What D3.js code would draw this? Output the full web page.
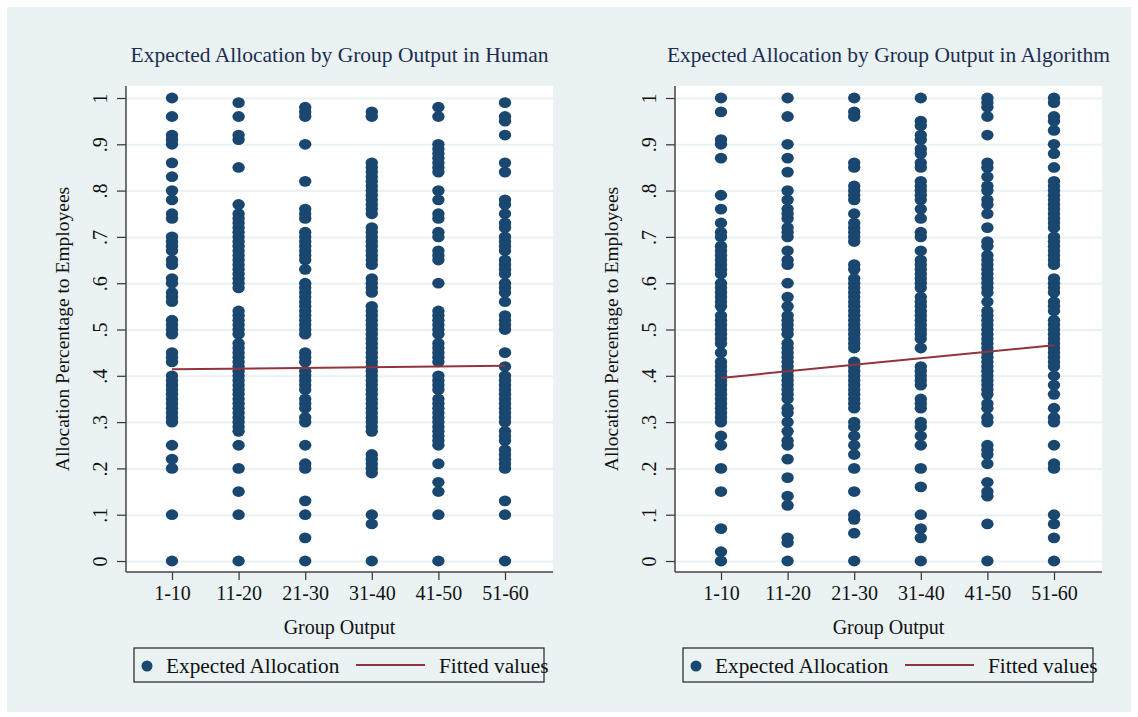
<!DOCTYPE html>
<html>
<head>
<meta charset="utf-8">
<script src="https://cdn.jsdelivr.net/npm/d3@7"></script>
<style>
  html, body { margin: 0; padding: 0; background: #fff; }
  svg text { font-family: "Liberation Serif", "Times New Roman", serif; }
</style>
</head>
<body>
<div id="chart"></div>
<script>
// ── data ─────────────────────────────────────────────────────────────
const groups = ["1-10", "11-20", "21-30", "31-40", "41-50", "51-60"];
const yTicks = [0, .1, .2, .3, .4, .5, .6, .7, .8, .9, 1];
const yTickLabels = ["0", ".1", ".2", ".3", ".4", ".5", ".6", ".7", ".8", ".9", "1"];

// Human condition, one array per group output bin
const human = [
  [1, .96, .92, .91, .90, .86, .83, .80, .78, .75, .74, .70, .69, .68, .67, .65, .64, .61, .60, .58, .57, .56, .52, .51, .50, .49, .45, .44, .43, .40, .39, .38, .37, .36, .35, .34, .33, .32, .31, .30, .25, .22, .20, .10, 0],
  [.99, .96, .92, .91, .85, .77, .75, .74, .73, .72, .71, .70, .69, .68, .67, .66, .65, .64, .63, .62, .61, .60, .59, .54, .53, .52, .51, .50, .49, .47, .46, .45, .44, .43, .42, .41, .40, .39, .38, .37, .36, .35, .34, .33, .32, .31, .30, .29, .28, .25, .20, .15, .10, 0],
  [.98, .97, .96, .90, .82, .76, .75, .74, .71, .70, .69, .68, .67, .66, .65, .63, .60, .59, .58, .57, .56, .55, .54, .53, .52, .51, .50, .49, .45, .44, .43, .41, .40, .39, .38, .37, .35, .34, .33, .31, .30, .25, .21, .20, .13, .10, .05, 0],
  [.97, .96, .86, .85, .84, .83, .82, .81, .80, .79, .78, .77, .76, .75, .72, .71, .70, .69, .68, .67, .66, .65, .64, .61, .60, .59, .58, .55, .54, .53, .52, .51, .50, .49, .48, .47, .46, .45, .44, .43, .42, .41, .40, .39, .38, .37, .36, .35, .34, .33, .32, .31, .30, .29, .28, .23, .22, .21, .20, .19, .10, .08, 0],
  [.98, .96, .90, .89, .88, .87, .86, .85, .84, .80, .78, .75, .74, .71, .70, .67, .66, .65, .60, .54, .53, .52, .51, .50, .49, .47, .46, .45, .44, .43, .40, .39, .38, .37, .35, .34, .33, .32, .31, .30, .29, .28, .27, .26, .25, .21, .17, .15, .10, 0],
  [.99, .96, .95, .92, .86, .84, .78, .77, .75, .73, .72, .70, .69, .68, .67, .65, .64, .63, .62, .60, .59, .58, .56, .53, .52, .51, .50, .45, .42, .40, .39, .38, .37, .36, .35, .34, .33, .32, .31, .30, .28, .27, .26, .24, .23, .22, .21, .20, .13, .10, 0]
];

// Algorithm condition
const algorithm = [
  [1, .97, .91, .90, .87, .79, .76, .73, .71, .70, .68, .67, .66, .65, .64, .63, .62, .60, .59, .58, .57, .56, .55, .53, .52, .51, .50, .49, .48, .47, .45, .43, .42, .41, .40, .39, .38, .37, .36, .35, .34, .33, .32, .31, .30, .27, .25, .20, .15, .07, .02, 0],
  [1, .96, .90, .87, .84, .80, .78, .76, .75, .74, .72, .71, .70, .67, .65, .64, .60, .57, .55, .53, .52, .51, .50, .49, .47, .46, .45, .44, .43, .42, .41, .40, .39, .38, .37, .36, .35, .33, .32, .30, .28, .26, .25, .22, .18, .14, .12, .05, .04, 0],
  [1, .97, .96, .86, .85, .81, .80, .79, .78, .75, .73, .72, .71, .70, .69, .64, .63, .61, .60, .59, .58, .57, .56, .55, .54, .53, .52, .51, .50, .49, .48, .47, .46, .43, .42, .41, .40, .39, .38, .37, .36, .35, .34, .33, .30, .29, .27, .25, .23, .20, .15, .10, .09, .06, 0],
  [1, .95, .94, .92, .91, .89, .88, .86, .85, .82, .81, .80, .79, .78, .76, .74, .71, .70, .67, .65, .64, .63, .62, .61, .60, .59, .57, .56, .55, .54, .53, .52, .51, .50, .49, .48, .46, .42, .41, .40, .39, .38, .35, .34, .33, .30, .29, .27, .25, .20, .16, .10, .07, .05, 0],
  [1, .99, .98, .96, .92, .86, .85, .83, .81, .80, .78, .77, .75, .72, .69, .68, .66, .65, .64, .63, .62, .61, .60, .59, .58, .56, .54, .53, .52, .51, .50, .49, .48, .47, .46, .45, .44, .43, .42, .41, .40, .39, .38, .37, .36, .34, .33, .31, .30, .25, .24, .23, .21, .17, .15, .14, .08, 0],
  [1, .99, .96, .95, .93, .90, .88, .85, .82, .81, .80, .79, .78, .77, .76, .75, .74, .73, .72, .70, .69, .68, .67, .66, .65, .64, .61, .60, .59, .58, .56, .55, .54, .52, .51, .50, .49, .48, .47, .46, .45, .44, .43, .42, .40, .38, .36, .33, .31, .30, .25, .21, .20, .10, .08, .05, 0]
];

// fitted values read at the first and last group
const fitHuman     = [{ g: "1-10", v: 0.414 }, { g: "51-60", v: 0.4215 }];
const fitAlgorithm = [{ g: "1-10", v: 0.3955 }, { g: "51-60", v: 0.466 }];

// ── page ─────────────────────────────────────────────────────────────
const W = 1138, H = 717;
const dotColor  = "#1a476f";
const lineColor = "#90353b";
const bgColor   = "#eaf2f3";

const svg = d3.select("#chart").append("svg")
  .attr("width", W).attr("height", H);

svg.append("rect")
  .attr("x", 7).attr("y", 7)
  .attr("width", W - 14).attr("height", H - 12)
  .attr("fill", bgColor);

function drawPanel(x0, title, cols, fit) {
  const x1 = x0 + 427;          // plot region
  const top = 86, bottom = 572;

  const x = d3.scalePoint().domain(groups).range([x0 + 46, x1 - 48]);
  const y = d3.scaleLinear().domain([0, 1]).range([561, 98]);

  const g = svg.append("g");

  // white plot region
  g.append("rect")
    .attr("x", x0).attr("y", top)
    .attr("width", x1 - x0).attr("height", bottom - top)
    .attr("fill", "#fff");

  // grid lines
  g.append("g")
    .attr("transform", `translate(${x0},0)`)
    .call(d3.axisLeft(y).tickValues(yTicks).tickSize(-(x1 - x0)).tickFormat(""))
    .call(s => s.select(".domain").remove())
    .call(s => s.selectAll("line").attr("stroke", bgColor).attr("stroke-width", 2));

  // points
  cols.forEach((vals, i) => {
    g.append("g").selectAll("ellipse")
      .data(vals)
      .join("ellipse")
        .attr("cx", x(groups[i]))
        .attr("cy", d => y(d))
        .attr("rx", 6.2).attr("ry", 5.4)
        .attr("fill", dotColor);
  });

  // fitted line
  g.append("path")
    .datum(fit)
    .attr("fill", "none")
    .attr("stroke", lineColor)
    .attr("stroke-width", 2)
    .attr("d", d3.line().x(d => x(d.g)).y(d => y(d.v)));

  // y axis
  const ya = g.append("g")
    .attr("transform", `translate(${x0},0)`)
    .call(d3.axisLeft(y).tickValues(yTicks).tickSize(9)
      .tickFormat((d, i) => yTickLabels[i]));
  ya.select(".domain").remove();
  ya.selectAll("line").attr("stroke", "#333").attr("stroke-width", 1.2);
  ya.selectAll("text")
    .attr("x", null).attr("dy", null)
    .attr("transform", "translate(-26,0) rotate(-90)")
    .attr("text-anchor", "middle")
    .attr("dominant-baseline", "central")
    .attr("fill", "#111")
    .style("font-size", "20px");

  // x axis
  const xa = g.append("g")
    .attr("transform", `translate(0,${bottom})`)
    .call(d3.axisBottom(x).tickSize(8));
  xa.select(".domain").remove();
  xa.selectAll("line").attr("stroke", "#333").attr("stroke-width", 1.2);
  xa.selectAll("text")
    .attr("y", 21).attr("dy", null)
    .attr("dominant-baseline", "central")
    .attr("fill", "#111")
    .style("font-size", "20px");

  // axis lines
  g.append("line")
    .attr("x1", x0).attr("x2", x0).attr("y1", top).attr("y2", bottom)
    .attr("stroke", "#444").attr("stroke-width", 1.5);
  g.append("line")
    .attr("x1", x0).attr("x2", x1).attr("y1", bottom).attr("y2", bottom)
    .attr("stroke", "#444").attr("stroke-width", 1.5);

  // titles
  const cx = (x0 + x1) / 2;
  g.append("text")
    .attr("x", cx).attr("y", 55)
    .attr("text-anchor", "middle").attr("dominant-baseline", "central")
    .attr("fill", "#1c2e4f")
    .style("font-size", "21.5px")
    .text(title);

  g.append("text")
    .attr("x", cx).attr("y", 627)
    .attr("text-anchor", "middle").attr("dominant-baseline", "central")
    .attr("fill", "#111")
    .style("font-size", "20px")
    .text("Group Output");

  g.append("text")
    .attr("transform", `translate(${x0 - 64},${(top + bottom) / 2}) rotate(-90)`)
    .attr("text-anchor", "middle").attr("dominant-baseline", "central")
    .attr("fill", "#111")
    .style("font-size", "19.5px")
    .text("Allocation Percentage to Employees");

  // legend
  const lx = x0 + 8, ly = 648;
  const lg = g.append("g").attr("transform", `translate(${lx},${ly})`);
  lg.append("rect")
    .attr("width", 410).attr("height", 34)
    .attr("fill", "none").attr("stroke", "#222").attr("stroke-width", 1.2);
  lg.append("circle")
    .attr("cx", 13).attr("cy", 18).attr("r", 5.5)
    .attr("fill", dotColor);
  lg.append("text")
    .attr("x", 32).attr("y", 18)
    .attr("dominant-baseline", "central")
    .attr("fill", "#111")
    .style("font-size", "21.3px")
    .text("Expected Allocation");
  lg.append("line")
    .attr("x1", 222).attr("x2", 291).attr("y1", 17).attr("y2", 17)
    .attr("stroke", lineColor).attr("stroke-width", 2);
  lg.append("text")
    .attr("x", 305).attr("y", 18)
    .attr("dominant-baseline", "central")
    .attr("fill", "#111")
    .style("font-size", "21.3px")
    .text("Fitted values");
}

drawPanel(126, "Expected Allocation by Group Output in Human", human, fitHuman);
drawPanel(675, "Expected Allocation by Group Output in Algorithm", algorithm, fitAlgorithm);
</script>
</body>
</html>
